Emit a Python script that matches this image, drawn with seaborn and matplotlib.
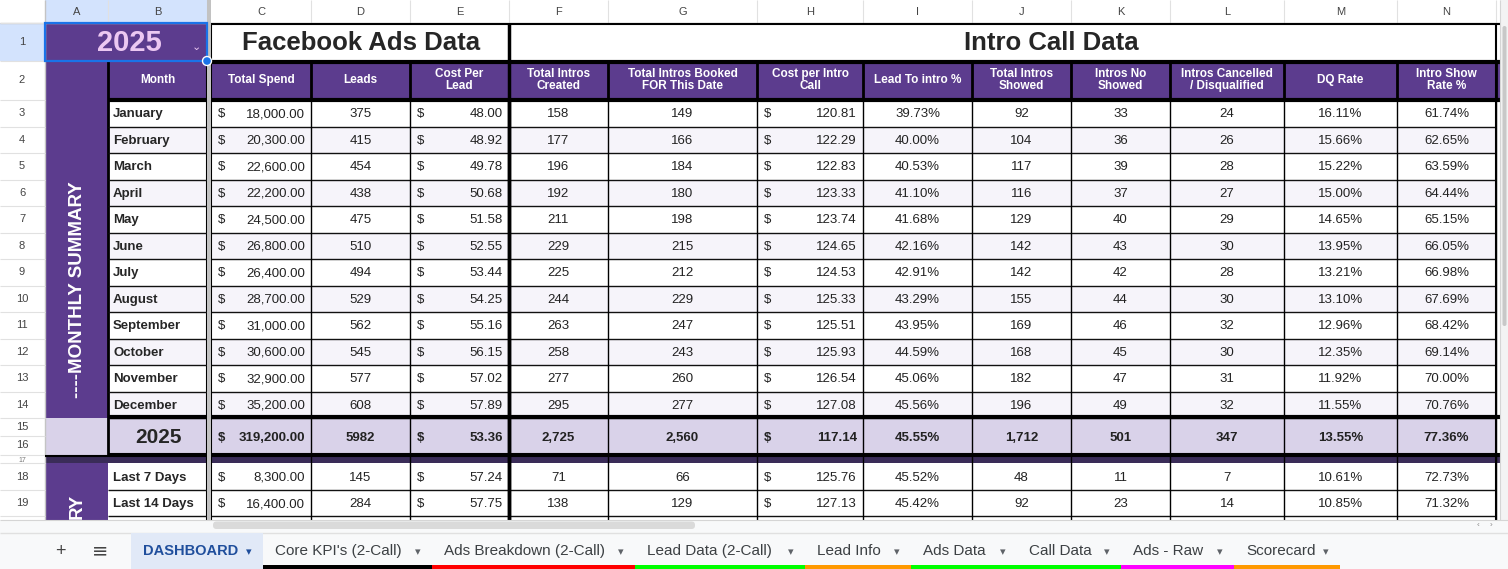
import matplotlib
matplotlib.use('Agg')
import matplotlib.pyplot as plt
from matplotlib.patches import Rectangle, FancyBboxPatch, Circle
import pandas as pd
import seaborn as sns

# ==========================================
# data
# ==========================================
months = ['January', 'February', 'March', 'April', 'May', 'June', 'July',
          'August', 'September', 'October', 'November', 'December']
total_spend = [18000, 20300, 22600, 22200, 24500, 26800, 26400, 28700, 31000, 30600, 32900, 35200]
leads = [375, 415, 454, 438, 475, 510, 494, 529, 562, 545, 577, 608]
cost_per_lead = [48.00, 48.92, 49.78, 50.68, 51.58, 52.55, 53.44, 54.25, 55.16, 56.15, 57.02, 57.89]
intros_created = [158, 177, 196, 192, 211, 229, 225, 244, 263, 258, 277, 295]
intros_booked = [149, 166, 184, 180, 198, 215, 212, 229, 247, 243, 260, 277]
cost_per_intro = [120.81, 122.29, 122.83, 123.33, 123.74, 124.65, 124.53, 125.33, 125.51, 125.93, 126.54, 127.08]
lead_to_intro = [39.73, 40.00, 40.53, 41.10, 41.68, 42.16, 42.91, 43.29, 43.95, 44.59, 45.06, 45.56]
intros_showed = [92, 104, 117, 116, 129, 142, 142, 155, 169, 168, 182, 196]
intros_no_show = [33, 36, 39, 37, 40, 43, 42, 44, 46, 45, 47, 49]
intros_cancelled = [24, 26, 28, 27, 29, 30, 28, 30, 32, 30, 31, 32]
dq_rate = [16.11, 15.66, 15.22, 15.00, 14.65, 13.95, 13.21, 13.10, 12.96, 12.35, 11.92, 11.55]
show_rate = [61.74, 62.65, 63.59, 64.44, 65.15, 66.05, 66.98, 67.69, 68.42, 69.14, 70.00, 70.76]

year_label = '2025'
year_totals = [319200, 5982, 53.36, 2725, 2560, 117.14, 45.55, 1712, 501, 347, 13.55, 77.36]

recent_labels = ['Last 7 Days', 'Last 14 Days']
recent_spend = [8300, 16400]
recent_leads = [145, 284]
recent_cpl = [57.24, 57.75]
recent_created = [71, 138]
recent_booked = [66, 129]
recent_cost_intro = [125.76, 127.13]
recent_lead_intro = [45.52, 45.42]
recent_showed = [48, 92]
recent_no_show = [11, 23]
recent_cancelled = [7, 14]
recent_dq = [10.61, 10.85]
recent_show = [72.73, 71.32]

headers = ['Total Spend', 'Leads', 'Cost Per\nLead', 'Total Intros\nCreated',
           'Total Intros Booked\nFOR This Date', 'Cost per Intro\nCall', 'Lead To intro %',
           'Total Intros\nShowed', 'Intros No\nShowed', 'Intros Cancelled\n/ Disqualified',
           'DQ Rate', 'Intro Show\nRate %']
kinds = ['money', 'plain', 'money', 'int', 'int', 'money', 'pct', 'int', 'int', 'int', 'pct', 'pct']

tabs = ['DASHBOARD', "Core KPI's (2-Call)", 'Ads Breakdown (2-Call)', 'Lead Data (2-Call)',
        'Lead Info', 'Ads Data', 'Call Data', 'Ads - Raw', 'Scorecard']
tab_colors = [None, '#000000', '#ff0000', '#00ff00', '#ff9900', '#00ff00', '#00ff00', '#ff00ff', '#ff9900']

monthly = pd.DataFrame({
    'spend': total_spend, 'leads': leads, 'cpl': cost_per_lead, 'created': intros_created,
    'booked': intros_booked, 'cost_intro': cost_per_intro, 'lead_intro': lead_to_intro,
    'showed': intros_showed, 'no_show': intros_no_show, 'cancelled': intros_cancelled,
    'dq': dq_rate, 'show': show_rate}, index=months)
recent = pd.DataFrame({
    'spend': recent_spend, 'leads': recent_leads, 'cpl': recent_cpl, 'created': recent_created,
    'booked': recent_booked, 'cost_intro': recent_cost_intro, 'lead_intro': recent_lead_intro,
    'showed': recent_showed, 'no_show': recent_no_show, 'cancelled': recent_cancelled,
    'dq': recent_dq, 'show': recent_show}, index=recent_labels)

# ==========================================
# style / layout
# ==========================================
sns.set_theme(style='white')
plt.rcParams['font.family'] = ['Liberation Sans', 'DejaVu Sans']

PURPLE = '#5c3c8e'
LAV = '#d9d2e9'
STRIPE = '#f6f4fa'
HDR_SEL = '#d3e3fd'
GRID = '#e1e1e1'

W, H = 1508, 569
fig = plt.figure(figsize=(W / 100, H / 100), dpi=100)
ax = fig.add_axes([0, 0, 1, 1])
ax.set_xlim(0, W)
ax.set_ylim(H, 0)
ax.axis('off')

# column edges (A..N), B/C separated by the frozen divider
col_left = [45, 108, 211, 311, 410, 509, 608, 757, 863, 972, 1071, 1170, 1284, 1397]
col_right = [108, 207, 311, 410, 509, 608, 757, 863, 972, 1071, 1170, 1284, 1397, 1496]
letters = list('ABCDEFGHIJKLMN')

row_top = {1: 23, 2: 61}
for r in range(3, 15):
    row_top[r] = 100 + (r - 3) * 26.5
row_top.update({15: 418, 16: 436, 17: 455, 18: 463, 19: 490, 20: 516})
row_bot = {r: row_top[r + 1] for r in range(1, 20)}
row_bot[20] = 520


def rect(x0, y0, x1, y1, fc, ec='none', lw=0, z=1):
    p = Rectangle((x0, y0), x1 - x0, y1 - y0, facecolor=fc, edgecolor=ec, linewidth=lw, zorder=z)
    ax.add_patch(p)
    return p


def hline(y, x0, x1, c='black', lw=1, z=5):
    ax.plot([x0, x1], [y, y], color=c, lw=lw, zorder=z, solid_capstyle='butt')


def vline(x, y0, y1, c='black', lw=1, z=5):
    ax.plot([x, x], [y0, y1], color=c, lw=lw, zorder=z, solid_capstyle='butt')


# sheet background + column / row headers
rect(0, 0, W, 532, 'white', z=0)
for i, L in enumerate(letters):
    fc = HDR_SEL if i < 2 else 'white'
    rect(col_left[i], 0, col_right[i], 23, fc)
    vline(col_right[i], 0, 23, GRID, 0.8)
    ax.text((col_left[i] + col_right[i]) / 2, 12, L, ha='center', va='center', fontsize=8, color='#444444')
hline(23, 0, 1500, '#c4c4c4', 1)
vline(45, 0, 520, '#c4c4c4', 1)

row_labels = [(1, 42), (2, 80)] + [(r, (row_top[r] + row_bot[r]) / 2) for r in range(3, 15)] + \
             [(15, 427), (16, 445), (18, 477), (19, 503)]
rect(0, 23, 45, 61, HDR_SEL)
for r, yc in row_labels:
    ax.text(22, yc, str(r), ha='center', va='center', fontsize=8, color='#444444')
for r in range(1, 21):
    hline(row_top[r], 0, 45, GRID, 0.8)
ax.text(22, 460, '17', ha='center', va='center', fontsize=5, color='#777777')

# ---------- row 1 ----------
rect(45, 23, 207, 61, PURPLE)
ax.text(129, 43, year_label, ha='center', va='center', fontsize=21, fontweight='bold', color='#ecc8f2')
ax.text(196, 47, '\u2304', ha='center', va='center', fontsize=8, color='#ecc8f2',
        family=['DejaVu Sans'])
ax.text(361, 43, 'Facebook Ads Data', ha='center', va='center', fontsize=18.5, fontweight='bold')
ax.text(1051, 43, 'Intro Call Data', ha='center', va='center', fontsize=18.5, fontweight='bold')

# ---------- row 2 headers ----------
rect(45, 61, 108, 418, PURPLE)
rect(108, 61, 1500, 100, PURPLE)
ax.text(158, 80, 'Month', ha='center', va='center', fontsize=8.5, fontweight='bold', color='white')
for j, h in enumerate(headers):
    i = j + 2
    ax.text((col_left[i] + col_right[i]) / 2, 80, h, ha='center', va='center', fontsize=8.5,
            fontweight='bold', color='white', linespacing=1.05)
    vline(col_right[i], 61, 100, 'black', 2)
vline(108, 61, 455, 'black', 2)
vline(207, 61, 520, 'black', 1.5)

ax.text(77, 290, '----MONTHLY SUMMARY', rotation=90, ha='center', va='center', fontsize=13.5,
        fontweight='bold', color='white')


def fmt(kind, v):
    if kind == 'money':
        return f'{v:,.2f}'
    if kind == 'pct':
        return f'{v:.2f}%'
    if kind == 'int':
        return f'{int(v):,}'
    return f'{int(v)}'


def draw_row(r0, r1, label, values, bold=False, fc='white', label_size=9.5):
    y0, y1 = row_top[r0], row_bot[r1]
    yc = (y0 + y1) / 2 + 1
    rect(108, y0, 207, y1, fc)
    rect(211, y0, 1496, y1, fc)
    fw = 'bold' if bold else 'normal'
    if label_size > 10:
        ax.text(158, yc, label, ha='center', va='center', fontsize=label_size, fontweight='bold')
    else:
        ax.text(113, yc, label, ha='left', va='center', fontsize=label_size, fontweight='bold')
    for j, (kind, v) in enumerate(zip(kinds, values)):
        i = j + 2
        if kind == 'money':
            ax.text(col_left[i] + 7, yc, '$', ha='left', va='center', fontsize=9.5, fontweight=fw, color='#222222')
            ax.text(col_right[i] - 6, yc, fmt(kind, v), ha='right', va='center', fontsize=9.5,
                    fontweight=fw, color='#222222')
        else:
            ax.text((col_left[i] + col_right[i]) / 2, yc, fmt(kind, v), ha='center', va='center',
                    fontsize=9.5, fontweight=fw, color='#222222')


for k, (m, vals) in enumerate(monthly.iterrows()):
    r = 3 + k
    draw_row(r, r, m, vals.values, fc='white' if k % 2 == 0 else STRIPE)
    hline(row_bot[r], 108, 1496, '#111111', 1)

# totals row
rect(45, 418, 108, 455, LAV)
draw_row(15, 16, year_label, year_totals, bold=True, fc=LAV, label_size=15)

# row 17 divider band
rect(45, 455, 1500, 463, '#3a2c58', z=4)
hline(455.5, 45, 1500, 'black', 1.5, z=6)

# recent rows
recent_cell = rect(45, 463, 108, 520, PURPLE)
for k, (lab, vals) in enumerate(recent.iterrows()):
    r = 18 + k
    draw_row(r, r, lab, vals.values, fc='white')
    hline(row_bot[r], 108, 1496, '#111111', 1)
# only the end of this merged-cell label is on screen
t = ax.text(77, 494, 'RY', rotation=90, ha='center', va='top', fontsize=13.5,
            fontweight='bold', color='white', zorder=3)
t.set_clip_path(recent_cell)

# vertical cell borders in body
for i in range(2, 14):
    lw = 2.5 if i == 4 else 1
    vline(col_right[i], 100, 520, 'black', lw)
vline(211, 23, 520, 'black', 1.5)
vline(509, 23, 520, 'black', 2.5)
vline(1496, 23, 520, 'black', 1.5)

# thick horizontals
hline(23.5, 211, 1500, 'black', 1.5)
hline(61.5, 211, 1500, 'black', 3)
hline(99.5, 108, 1500, 'black', 3)
hline(417, 108, 1500, 'black', 3)
hline(454, 108, 1500, 'black', 1.5)

# frozen divider
rect(207, 0, 211, 520, '#c2c2c2', z=7)

# selection border + handle
ax.add_patch(Rectangle((45, 23), 162, 38, facecolor='none', edgecolor='#1a73e8', linewidth=1.6, zorder=8))
ax.add_patch(Circle((207, 61), 4.5, facecolor='#1a73e8', edgecolor='white', linewidth=1, zorder=9))

# vertical scrollbar
rect(1500, 0, W, 520, '#f3f3f3', z=7)
ax.add_patch(FancyBboxPatch((1502.5, 26), 4, 300, boxstyle='round,pad=0,rounding_size=2',
                            facecolor='#c8c8c8', edgecolor='none', zorder=8))
vline(1500, 0, 520, '#d5d5d5', 0.8, z=8)

# horizontal scrollbar
rect(45, 520, W, 532, '#f8f9fa', z=7)
hline(520, 0, W, '#d5d5d5', 0.8, z=8)
ax.add_patch(FancyBboxPatch((213, 521.5), 482, 7.5, boxstyle='round,pad=0,rounding_size=3.5',
                            facecolor='#dadada', edgecolor='none', zorder=8))
ax.text(1478, 525, '\u2039', ha='center', va='center', fontsize=6, color='#888888', zorder=9)
ax.text(1491, 525, '\u203a', ha='center', va='center', fontsize=6, color='#888888', zorder=9)
rect(0, 520, 45, 532, '#f8f9fa', z=7)

# ==========================================
# sheet tabs
# ==========================================
rect(0, 532, W, H, '#f8f9fa', z=7)
hline(532.5, 0, W, '#e0e0e0', 1, z=8)
ax.text(60, 551, '+', ha='center', va='center', fontsize=13, color='#444444', zorder=9)
ax.text(100, 551, '\u2261', ha='center', va='center', fontsize=14, color='#444444', zorder=9,
        family=['DejaVu Sans'])
tab_edges = [131, 263, 432, 635, 805, 911, 1017, 1121, 1234, 1340]
for t, name in enumerate(tabs):
    x0, x1 = tab_edges[t], tab_edges[t + 1]
    if t == 0:
        rect(x0, 533, x1, H, '#e1e9f7', z=8)
        col, fw, fs = '#1f4e9c', 'bold', 10.5
    else:
        rect(x0, 565, x1, H, tab_colors[t], z=8)
        col, fw, fs = '#3c4043', 'normal', 11
    ax.text(x0 + 12, 551, name, ha='left', va='center', fontsize=fs, color=col, fontweight=fw, zorder=9)
    ax.text(x1 - 14, 552, '\u25be', ha='center', va='center', fontsize=8, color=col if t == 0 else '#5f6368',
            zorder=9, family=['DejaVu Sans'])

fig.savefig('out.png', dpi=100)
